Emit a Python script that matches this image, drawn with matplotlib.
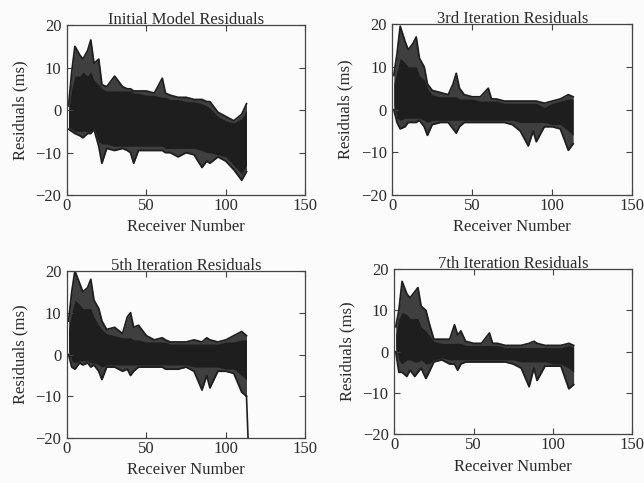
import numpy as np
import matplotlib
matplotlib.use("Agg")
import matplotlib.pyplot as plt

plt.rcParams['font.family'] = ['Liberation Serif', 'DejaVu Serif']

receivers = [1, 3, 5, 8, 10, 13, 15, 17, 20, 22, 25, 30, 35, 38, 40, 42, 45,
             50, 55, 60, 62, 65, 70, 75, 80, 85, 88, 90, 95, 100, 105, 110, 113]

# Initial model
init_hi = [1, 9, 15, 13, 12, 14, 16.5, 11, 12, 6, 5.5, 8, 5.5, 5, 5, 4.5, 4.5,
           4.5, 4, 7.5, 4, 3.5, 3, 3, 2.5, 2.5, 2, 2, -0.5, -1.5, -2.5, -1, 1.5]
init_lo = [-4.5, -5, -5.5, -6, -6.5, -5.5, -5.5, -4.5, -8.5, -12.5, -9, -9.5, -9, -9.5, -10, -12.5, -9.5,
           -9.5, -9.5, -9.5, -10, -10, -11, -10, -10.5, -13.5, -12, -12.5, -11, -12, -14, -16.5, -14.5]
init_core_hi = [0, 5, 8, 8, 9, 8, 9, 7, 6, 5, 4.5, 4.5, 4.5, 4.5, 4.5, 4, 4,
                3.5, 3.5, 3, 3, 2.5, 2.5, 2, 2, 1.5, 1, 0.5, -1.5, -2.5, -3, -2, 0]
init_core_lo = [-4, -4.5, -5, -5, -5, -5, -5, -4, -7.5, -8, -8, -8.5, -8.5, -8.5, -8.5, -8.5, -8.5,
                -8.5, -8.5, -8.5, -9, -9, -9, -9, -9, -9.5, -10, -10, -10.5, -11, -13, -15, -13]

# 3rd iteration
it3_hi = [8, 13, 19.5, 16, 14, 15.5, 17, 12, 10, 6, 4.5, 4, 3.5, 6, 8.5, 5, 3.5,
          3, 3, 5, 2.5, 2.5, 2, 2, 2, 2, 2, 2, 1.5, 2, 2.5, 3.5, 3]
it3_lo = [0, -3, -4.5, -4, -3, -3, -3, -2.5, -4, -6, -3.5, -3, -3, -4.5, -5.5, -4, -3,
          -3, -3, -3, -3, -3, -3, -3.5, -5, -8.5, -5, -7.5, -4, -4, -4.5, -9.5, -8]
it3_core_hi = [6, 9, 12, 11, 10, 10, 10, 8, 7, 5, 3.5, 3, 3, 3, 3, 2.5, 2.5,
               2.5, 2, 2, 2, 2, 1.5, 1.5, 1.5, 1.5, 1.5, 1.5, 0.5, 1.5, 2, 2.5, 2.5]
it3_core_lo = [1, -2, -2.5, -2, -2, -2, -2, -2, -2.5, -3, -2.5, -2.5, -2.5, -2.5, -2.5, -2.5, -2.5,
               -2.5, -2.5, -2.5, -2.5, -2.5, -2.5, -2.5, -3, -3, -3, -3, -3, -3.5, -3.5, -5, -6]

# 5th iteration
it5_hi = [8, 15, 20, 17, 15, 16, 18, 13, 11, 8, 6, 6.5, 5, 9, 10, 6.5, 7,
          4.5, 3.5, 4, 3.5, 3, 3, 3, 3.5, 3, 4, 3.5, 3, 3.5, 4.5, 5.5, 4.5]
it5_lo = [0, -3, -3.5, -2, -2.5, -2, -3, -2.5, -4, -6, -3, -3, -4, -3.5, -5, -4, -3,
          -3, -3, -3, -3.5, -3.5, -3.5, -3, -4, -8.5, -5, -8, -4, -4, -4.5, -9, -10]
it5_core_hi = [6, 10, 13, 12, 11, 11, 11, 9, 7, 6, 5, 4.5, 4, 4, 4, 3.5, 3.5,
               3, 3, 3, 3, 2.5, 2.5, 2.5, 2.5, 2.5, 2.5, 2.5, 2.5, 3, 3, 3.5, 3.5]
it5_core_lo = [1, -1.5, -2, -1.5, -1.5, -1.5, -2, -2, -2.5, -3, -2.5, -2.5, -2.5, -2.5, -2.5, -2.5, -2.5,
               -2.5, -2.5, -2.5, -2.5, -2.5, -2.5, -2.5, -3, -3, -3, -3, -3, -3.5, -3.5, -5, -6]
it5_drop_x = [113, 114]
it5_drop_y = [-10, -20]

# 7th iteration
it7_hi = [6, 10, 17, 14, 13, 14.5, 15.5, 11, 10, 7, 3, 3, 3, 6.5, 4, 5, 2.5,
          2, 2, 4.5, 2, 2, 1.5, 1.5, 1.5, 2, 2.5, 2, 1.5, 1.5, 1.5, 2, 1.5]
it7_lo = [0, -5, -5, -6, -4.5, -6, -5, -4, -6.5, -5, -2.5, -2, -3, -3, -4.5, -3, -2.5,
          -2.5, -2.5, -2.5, -2.5, -2.5, -2.5, -3, -4, -8.5, -4, -7, -3.5, -3.5, -3.5, -9, -8]
it7_core_hi = [4, 8, 9.5, 9, 8, 8, 8, 6, 5, 4, 2.5, 2, 2, 2, 2, 2, 1.5,
               1.5, 1.5, 1.5, 1.5, 1.5, 1, 1, 1, 1, 1, 1, 1, 1, 1, 1.5, 1]
it7_core_lo = [1, -2, -3, -2, -2, -2.5, -2.5, -2, -3, -3, -2, -1.5, -2, -2, -2, -2, -2,
               -2, -2, -2, -2, -2, -2, -2, -2.5, -2.5, -2.5, -2.5, -2.5, -3, -3, -4, -5]

titles = ["Initial Model Residuals", "3rd Iteration Residuals",
          "5th Iteration Residuals", "7th Iteration Residuals"]

panels = [
    (init_hi, init_lo, init_core_hi, init_core_lo),
    (it3_hi, it3_lo, it3_core_hi, it3_core_lo),
    (it5_hi, it5_lo, it5_core_hi, it5_core_lo),
    (it7_hi, it7_lo, it7_core_hi, it7_core_lo),
]

# axes boxes (fig fraction)
boxes = [
    [0.104, 0.596, 0.370, 0.352],
    [0.609, 0.596, 0.373, 0.354],
    [0.104, 0.093, 0.370, 0.346],
    [0.612, 0.101, 0.370, 0.342],
]

ink = '#1e1e1e'
txt = '#2b2b2b'
fs = 12
fig = plt.figure(figsize=(6.44, 4.83), dpi=100, facecolor='#fbfbfb')

for i, (hi, lo, chi, clo) in enumerate(panels):
    ax = fig.add_axes(boxes[i])
    ax.set_facecolor('#fbfbfb')
    ax.fill_between(receivers, clo, chi, color=ink, linewidth=0)
    ax.fill_between(receivers, lo, hi, color=ink, alpha=0.85, linewidth=0)
    ax.plot(receivers, hi, color=ink, lw=1.3)
    ax.plot(receivers, lo, color=ink, lw=1.3)
    if i == 2:
        ax.plot(it5_drop_x, it5_drop_y, color=ink, lw=1.2)

    ax.set_xlim(0, 150)
    ax.set_ylim(-20, 20)
    ax.set_xticks([0, 50, 100, 150])
    ax.set_yticks([-20, -10, 0, 10, 20])
    ax.tick_params(direction='in', top=True, right=True, length=4, width=0.8,
                   labelsize=fs, labelcolor=txt, color='#444444')
    ax.tick_params(axis='x', pad=2)
    ax.tick_params(axis='y', pad=4)
    for s in ax.spines.values():
        s.set_color('#444444')
        s.set_linewidth(0.9)
    ax.set_title(titles[i], fontsize=fs, color=txt, pad=1)
    ax.set_xlabel("Receiver Number", fontsize=fs, color=txt, labelpad=4)
    ax.set_ylabel("Residuals (ms)", fontsize=fs, color=txt, labelpad=5)

plt.savefig("out.png", dpi=100, facecolor=fig.get_facecolor())
